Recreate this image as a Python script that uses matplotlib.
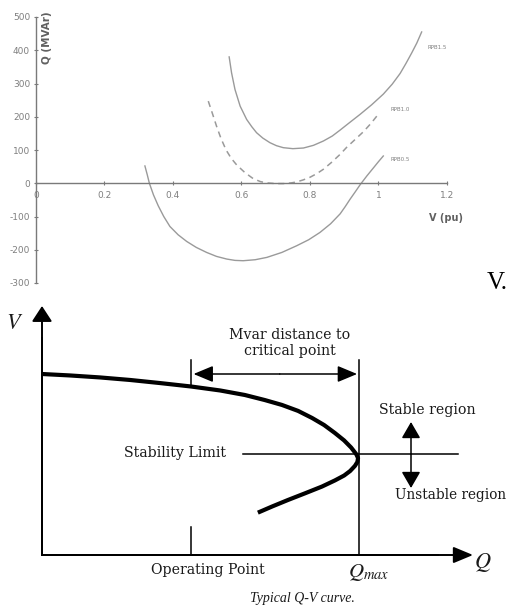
import matplotlib
matplotlib.use("Agg")
import matplotlib.pyplot as plt

plt.rcParams["mathtext.fontset"] = "stix"

# ---------------- top chart data (V in pu, Q in MVAr) ----------------
v_top = [0.564, 0.571, 0.581, 0.596, 0.615, 0.630, 0.644, 0.662, 0.683, 0.702,
         0.722, 0.750, 0.781, 0.810, 0.839, 0.865, 0.888, 0.915, 0.946, 0.980,
         1.014, 1.040, 1.063, 1.080, 1.097, 1.112, 1.126]
q_top = [380, 332, 282, 232, 192, 170, 152, 136, 122, 113,
         107, 104, 106, 114, 127, 142, 160, 182, 207, 236,
         268, 298, 330, 360, 392, 422, 455]

v_mid = [0.503, 0.515, 0.527, 0.540, 0.555, 0.570, 0.586, 0.610, 0.634, 0.655,
         0.674, 0.700, 0.722, 0.745, 0.761, 0.780, 0.800, 0.820, 0.839, 0.862,
         0.888, 0.907, 0.930, 0.956, 0.978, 0.999]
q_mid = [247, 210, 172, 135, 100, 75, 55, 32, 14, 5,
         1, -1, -1, 1, 4, 10, 18, 29, 42, 62,
         87, 108, 130, 155, 180, 207]

v_low = [0.318, 0.325, 0.331, 0.343, 0.357, 0.373, 0.391, 0.415, 0.440, 0.468,
         0.498, 0.527, 0.557, 0.581, 0.605, 0.640, 0.674, 0.718, 0.761, 0.796,
         0.829, 0.860, 0.888, 0.903, 0.917, 0.932, 0.946, 0.966, 0.985, 1.000,
         1.014]
q_low = [52, 25, 0, -35, -68, -100, -130, -155, -175, -193,
         -208, -220, -228, -232, -233, -230, -223, -208, -188, -170,
         -148, -122, -92, -70, -48, -26, -5, 22, 46, 65,
         82]

curve_labels = ["RPB1.5", "RPB1.0", "RPB0.5"]
label_v = [1.17, 1.063, 1.063]
label_q = [408, 222, 72]

x_ticks = [0, 0.2, 0.4, 0.6, 0.8, 1.0, 1.2]
x_ticklabels = ["0", "0.2", "0.4", "0.6", "0.8", "1", "1.2"]
y_ticks = [500, 400, 300, 200, 100, 0, -100, -200, -300]
y_ticklabels = ["500", "400", "300", "200", "100", "0", "-100", "-200", "-300"]

# ---------------- schematic data (arbitrary units) ----------------
sq_q = [0.0, 0.088, 0.183, 0.278, 0.372, 0.470, 0.562, 0.640, 0.703, 0.757,
        0.808, 0.852, 0.890, 0.924, 0.953, 0.975, 0.991, 0.997, 0.995, 0.987,
        0.972, 0.953, 0.924, 0.883, 0.830, 0.776, 0.726, 0.681]
sq_v = [1.0, 0.992, 0.981, 0.967, 0.950, 0.931, 0.909, 0.884, 0.856, 0.829,
        0.796, 0.757, 0.718, 0.674, 0.633, 0.594, 0.558, 0.536, 0.514, 0.492,
        0.464, 0.439, 0.412, 0.378, 0.341, 0.304, 0.268, 0.234]
q_max = 1.0
q_op = 0.47
v_op = 0.931
v_limit = 0.558

W, H = 510, 608
fig = plt.figure(figsize=(W / 100, H / 100), dpi=100)

# ================= top chart =================
gray_axis = "#7a7a7a"
gray_curve = "#9a9a9a"
gray_text = "#7f7f7f"
ax = fig.add_axes([36 / W, 1 - 283 / H, (447 - 36) / W, (283 - 17) / H])
ax.set_xlim(0, 1.2)
ax.set_ylim(-300, 500)
ax.plot(v_top, q_top, color=gray_curve, lw=1.0)
ax.plot(v_mid, q_mid, color=gray_curve, lw=1.1, ls=(0, (4, 3)))
ax.plot(v_low, q_low, color=gray_curve, lw=1.0)
for t, lv, lq in zip(curve_labels, label_v, label_q):
    ax.text(lv, lq, t, fontsize=4, color=gray_text, ha="center", va="center")

for s in ["top", "right"]:
    ax.spines[s].set_visible(False)
ax.spines["bottom"].set_position(("data", 0))
ax.spines["bottom"].set_color(gray_axis)
ax.spines["left"].set_color(gray_axis)
ax.spines["bottom"].set_linewidth(1.0)
ax.spines["left"].set_linewidth(1.0)
ax.set_xticks(x_ticks)
ax.set_xticklabels(x_ticklabels)
ax.set_yticks(y_ticks)
ax.set_yticklabels(y_ticklabels)
ax.tick_params(axis="both", colors=gray_axis, labelcolor=gray_text,
               labelsize=6.5, length=2.5, width=0.8, direction="inout")
ax.tick_params(axis="x", pad=4)
ax.tick_params(axis="y", pad=3)
ax.patch.set_visible(False)
ax.text((47 - 36) / 411, (283 - 38) / 266, "Q (MVAr)", transform=ax.transAxes,
        rotation=90, fontsize=7.5, fontweight="bold", color="#606060",
        ha="center", va="center")
ax.text((446 - 36) / 411, (283 - 218) / 266, "V (pu)", transform=ax.transAxes,
        fontsize=7, fontweight="bold", color="#606060", ha="center", va="center")

fig.text(487 / W, 1 - 283 / H, "V.", fontsize=18, family="Liberation Serif",
         ha="left", va="center")

# ================= schematic =================
bx = fig.add_axes([0, 0, 1, 308 / H])
qx0 = (0 - 42) / 317
qx1 = (510 - 42) / 317
vy0 = (555 - 608) / 181
vy1 = (555 - 300) / 181
bx.set_xlim(qx0, qx1)
bx.set_ylim(vy0, vy1)
bx.axis("off")

serif = "DejaVu Serif"
bx.plot(sq_q, sq_v, color="black", lw=3.0, solid_capstyle="butt",
        solid_joinstyle="round")

def arrow(x0, y0, x1, y1, hl, hw, lw=1.4):
    bx.annotate("", xy=(x1, y1), xytext=(x0, y0),
                arrowprops=dict(arrowstyle=f"-|>,head_length={hl},head_width={hw}",
                                mutation_scale=10, shrinkA=0, shrinkB=0,
                                lw=lw, color="black", fc="black"))

# axes
arrow(0, 0, 0, (555 - 306) / 181, 0.95, 0.62)
arrow(0, 0, (473 - 42) / 317, 0, 1.2, 0.5)
bx.plot([0, 0], [0, 1.2], color="black", lw=1.4)
bx.plot([0, 1.25], [0, 0], color="black", lw=1.4)

# Qmax line
bx.plot([q_max, q_max], [0, (555 - 360) / 181], color="black", lw=1.1)
# operating point ticks
bx.plot([q_op, q_op], [v_op, (555 - 360) / 181], color="black", lw=1.1)
bx.plot([q_op, q_op], [0, (555 - 527) / 181], color="black", lw=1.1)
# distance arrow
vd = (555 - 374) / 181
arrow(0.75, vd, q_op + 0.008, vd, 1.2, 0.5, lw=1.1)
arrow(0.75, vd, q_max - 0.006, vd, 1.2, 0.5, lw=1.1)
# stability limit line
bx.plot([(243 - 42) / 317, (458 - 42) / 317], [v_limit, v_limit], color="black", lw=1.1)
# stable/unstable arrows
qa = (411 - 42) / 317
arrow(qa, v_limit, qa, (555 - 422) / 181, 1.0, 0.58, lw=1.1)
arrow(qa, v_limit, qa, (555 - 488) / 181, 1.0, 0.58, lw=1.1)

fs = 10.2
tc = "#1a1a1a"
bx.text(0.782, 1.17, "Mvar distance to\ncritical point", family=serif, fontsize=fs,
        ha="center", va="center", linespacing=1.15, color=tc)
bx.text(0.42, 0.566, "Stability Limit", family=serif, fontsize=fs,
        ha="center", va="center", color=tc)
bx.text(1.214, 0.80, "Stable region", family=serif, fontsize=fs,
        ha="center", va="center", color=tc)
bx.text(1.29, 0.331, "Unstable region", family=serif, fontsize=9.8,
        ha="center", va="center", color=tc)
bx.text(0.524, -0.083, "Operating Point", family=serif, fontsize=fs,
        ha="center", va="center", color=tc)
bx.text(1.03, -0.094, r"$Q_{max}$", fontsize=15,
        ha="center", va="center", color=tc)
bx.text(1.39, -0.044, r"$Q$", fontsize=16, ha="center", va="center", color=tc)
bx.text(-0.087, 1.28, r"$V$", fontsize=16, ha="center", va="center", color=tc)
bx.text(0.823, -0.238, "Typical Q-V curve.", family="Liberation Serif", fontsize=10,
        style="italic", ha="center", va="center", color=tc)

fig.savefig("out.png", dpi=100)
